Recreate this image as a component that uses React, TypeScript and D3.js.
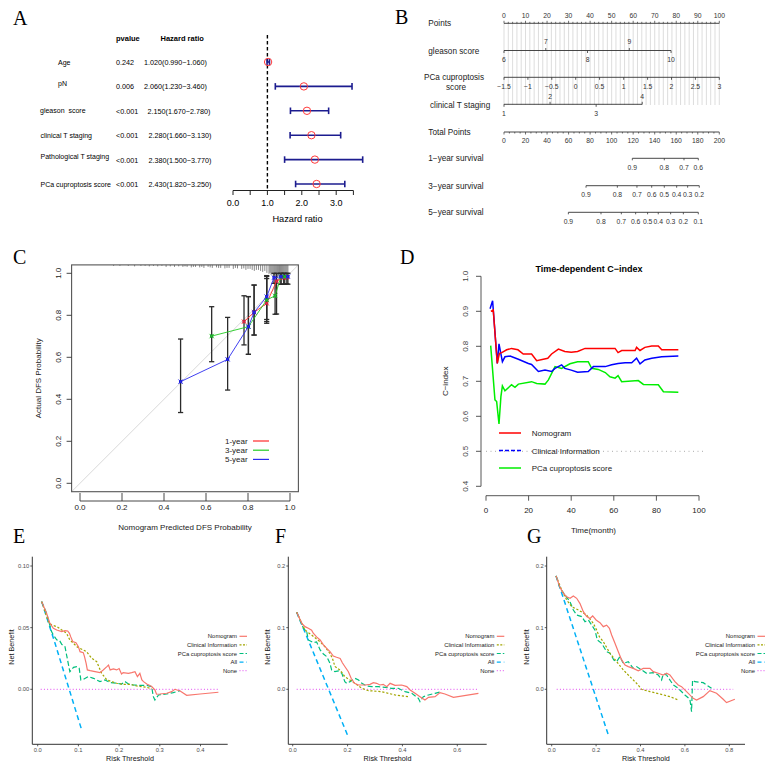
import React from 'react';
import * as d3 from 'd3';

const SANS = '"Liberation Sans", Arial, Helvetica, sans-serif';
const SERIF = '"Liberation Serif", "Times New Roman", serif';

// ---------- A: multivariate Cox regression ----------
const coxVariables = ['Age', 'pN', 'gleason  score', 'clinical T staging', 'Pathological T staging', 'PCa cuproptosis score'];
const coxPValues = ['0.242', '0.006', '<0.001', '<0.001', '<0.001', '<0.001'];
const coxHR = [1.02, 2.06, 2.15, 2.28, 2.38, 2.43];
const coxLower = [0.99, 1.23, 1.67, 1.66, 1.5, 1.82];
const coxUpper = [1.06, 3.46, 2.78, 3.13, 3.77, 3.25];
const forestTicks = [0, 0.5, 1, 1.5, 2, 2.5, 3, 3.5];
const forestTickLabels = [0, 1, 2, 3];

// ---------- B: nomogram ----------
const pointsTicks = [0, 10, 20, 30, 40, 50, 60, 70, 80, 90, 100];
const gleasonLevels = [6, 7, 8, 9, 10];
const gleasonPoints = [0, 19.4, 38.8, 58.2, 77.6];
const cuproptosisLevels = ['-1.5', '-1', '-0.5', '0', '0.5', '1', '1.5', '2', '2.5', '3'];
const cuproptosisPoints = [0, 11.1, 22.2, 33.3, 44.4, 55.6, 66.7, 77.8, 88.9, 100];
const clinicalTLevels = [1, 2, 3, 4];
const clinicalTPoints = [0, 21.4, 42.8, 64.2];
const totalPointsTicks = [0, 20, 40, 60, 80, 100, 120, 140, 160, 180, 200];
const surv1Labels = ['0.9', '0.8', '0.7', '0.6'];
const surv1Total = [119.2, 148.9, 167.2, 180.5];
const surv3Labels = ['0.9', '0.8', '0.7', '0.6', '0.5', '0.4', '0.3', '0.2'];
const surv3Total = [76.2, 105.3, 123.5, 137.2, 148.9, 160.4, 170.6, 181.4];
const surv5Labels = ['0.9', '0.8', '0.7', '0.6', '0.5', '0.4', '0.3', '0.2', '0.1'];
const surv5Total = [59.8, 90.1, 109, 122.3, 133.4, 143.3, 154.8, 166.6, 180.5];

// ---------- C: calibration ----------
const cal1Pred = [0.781, 0.829, 0.889, 0.936, 0.97, 0.985];
const cal1Obs = [0.77, 0.814, 0.857, 0.963, 0.979, 0.982];
const cal1Lo = [0.659, 0.706, 0.78, 0.806, 0.948, 0.95];
const cal1Hi = [0.893, 0.944, 0.975, 1.0, 1.0, 1.0];
const cal3Pred = [0.627, 0.802, 0.889, 0.929, 0.957, 0.975];
const cal3Obs = [0.701, 0.746, 0.873, 0.893, 0.984, 0.984];
const cal3Lo = [0.579, 0.614, 0.762, 0.805, 0.948, 0.948];
const cal3Hi = [0.841, 0.889, 0.989, 0.952, 1.0, 1.0];
const cal5Pred = [0.479, 0.703, 0.802, 0.829, 0.889, 0.924, 0.957, 0.99];
const cal5Obs = [0.484, 0.59, 0.746, 0.814, 0.889, 0.979, 0.984, 0.984];
const cal5Lo = [0.337, 0.444, 0.614, 0.706, 0.77, 0.952, 0.948, 0.948];
const cal5Hi = [0.687, 0.79, 0.889, 0.944, 0.985, 1.0, 1.0, 1.0];
const calTicks = [0, 0.2, 0.4, 0.6, 0.8, 1.0];
// distribution of predicted probabilities (relative frequency)
const rugPred = [0.16, 0.19, 0.23, 0.26, 0.29, 0.31, 0.33, 0.35, 0.37, 0.39, 0.41, 0.43, 0.45, 0.47, 0.49, 0.5, 0.51, 0.53, 0.54, 0.55, 0.57, 0.58, 0.59, 0.61, 0.62, 0.63, 0.65, 0.66, 0.67, 0.69, 0.7, 0.71, 0.73, 0.74, 0.75, 0.77, 0.78, 0.79, 0.8, 0.81, 0.82, 0.83, 0.84, 0.85, 0.86, 0.87, 0.88, 0.89, 0.9, 0.905, 0.91, 0.915, 0.92, 0.925, 0.93, 0.935, 0.94, 0.945, 0.95, 0.955, 0.96, 0.965, 0.97, 0.975, 0.98, 0.985, 0.99];
const rugFreq = [1, 1, 1, 1.5, 1, 1, 1.5, 1, 1.5, 1, 2, 1.5, 2, 1.5, 2, 1.5, 2, 2.5, 2, 2, 2.5, 2, 3, 2, 2.5, 3, 2.5, 3, 3, 3.5, 3, 3, 4, 3, 3.5, 4, 3.5, 5, 4, 4, 5, 6, 5, 5, 6, 7, 6, 8, 9, 8, 10, 9, 12, 10, 11, 12, 13, 11, 12, 10, 14, 12, 10, 11, 12, 9, 8];

// ---------- D: time-dependent C-index ----------
const cindexNomogram: [number, number][] = [[2.3, 0.9], [3.4, 0.904], [5.3, 0.751], [6.3, 0.78], [7.4, 0.782], [9.7, 0.79], [12, 0.794], [15, 0.79], [17.5, 0.778], [21.4, 0.778], [23.8, 0.759], [29, 0.766], [30.8, 0.778], [34, 0.792], [37, 0.785], [40, 0.783], [43, 0.785], [46.5, 0.794], [60.6, 0.794], [62, 0.782], [63.7, 0.788], [70, 0.788], [70.7, 0.797], [72.3, 0.788], [74.6, 0.797], [77.8, 0.801], [80.9, 0.801], [82.5, 0.79], [90.3, 0.79]];
const cindexClinical: [number, number][] = [[1.9, 0.907], [3.1, 0.93], [5.3, 0.751], [6.1, 0.807], [7.7, 0.756], [8.9, 0.77], [11.3, 0.772], [15.2, 0.763], [19.9, 0.751], [21.4, 0.748], [24.6, 0.728], [27.7, 0.732], [30.8, 0.728], [32.4, 0.737], [35.5, 0.747], [37, 0.737], [40, 0.732], [43, 0.726], [48, 0.728], [50.4, 0.742], [56, 0.742], [59, 0.747], [62, 0.751], [65.3, 0.753], [68.4, 0.753], [70.7, 0.766], [72.3, 0.75], [74.6, 0.761], [77.8, 0.766], [82.5, 0.77], [90.3, 0.772]];
const cindexScore: [number, number][] = [[2.2, 0.802], [4.2, 0.647], [5, 0.642], [6.1, 0.578], [7, 0.656], [7.7, 0.687], [8.9, 0.673], [12, 0.69], [13.6, 0.683], [15.2, 0.692], [21.4, 0.699], [23.8, 0.694], [27.7, 0.692], [29.3, 0.704], [32.4, 0.742], [35.5, 0.737], [39.4, 0.75], [43, 0.756], [48, 0.756], [49.6, 0.737], [52.7, 0.734], [56, 0.725], [58.2, 0.713], [60.6, 0.709], [62, 0.716], [63.7, 0.699], [71.5, 0.702], [73.9, 0.691], [80.9, 0.69], [83.3, 0.67], [90.3, 0.669]];
const cindexYTicks = [0.4, 0.5, 0.6, 0.7, 0.8, 0.9, 1.0];
const cindexXTicks = [0, 20, 40, 60, 80, 100];

// ---------- E/F/G: decision curves ----------
const dcaLegend = ['Nomogram', 'Clinical Information', 'PCa cuproptosis score', 'All', 'None'];

const dca1Nomogram: [number, number][] = [[0.0098, 0.0711], [0.022, 0.0616], [0.03, 0.0535], [0.0385, 0.0495], [0.0467, 0.0481], [0.059, 0.0468], [0.067, 0.0476], [0.0737, 0.0473], [0.078, 0.0454], [0.081, 0.0427], [0.086, 0.0387], [0.094, 0.0378], [0.1, 0.0346], [0.104, 0.0305], [0.112, 0.0297], [0.115, 0.0265], [0.119, 0.0211], [0.122, 0.0157], [0.129, 0.0151], [0.141, 0.0143], [0.153, 0.0135], [0.161, 0.0157], [0.17, 0.0184], [0.174, 0.0197], [0.178, 0.0157], [0.186, 0.0165], [0.194, 0.0157], [0.2, 0.0168], [0.206, 0.0124], [0.21, 0.0135], [0.223, 0.013], [0.231, 0.0135], [0.239, 0.0143], [0.245, 0.0103], [0.251, 0.013], [0.256, 0.0076], [0.26, 0.0062], [0.268, 0.0043], [0.28, 0.0022], [0.288, -0.0005], [0.292, -0.004], [0.3, -0.0038], [0.317, -0.0032], [0.329, -0.0019], [0.337, 0], [0.35, -0.0014], [0.366, -0.0049], [0.399, -0.0038], [0.444, -0.0024]];
const dca1Clinical: [number, number][] = [[0.0098, 0.0711], [0.026, 0.0549], [0.034, 0.0522], [0.047, 0.0508], [0.059, 0.0481], [0.071, 0.0454], [0.079, 0.04], [0.088, 0.0373], [0.096, 0.0346], [0.12, 0.0305], [0.133, 0.0251], [0.145, 0.0224], [0.157, 0.013], [0.17, 0.0076], [0.182, 0.0062], [0.194, 0.0049], [0.21, 0.004], [0.227, 0.004], [0.243, 0.0027], [0.268, 0.0016], [0.28, 0.0005]];
const dca1Score: [number, number][] = [[0.0098, 0.0711], [0.022, 0.0616], [0.034, 0.0468], [0.0385, 0.044], [0.047, 0.04], [0.053, 0.04], [0.059, 0.0365], [0.067, 0.0346], [0.071, 0.0278], [0.075, 0.0211], [0.079, 0.0143], [0.088, 0.0178], [0.096, 0.0184], [0.102, 0.017], [0.106, 0.0076], [0.112, 0.0081], [0.124, 0.0103], [0.137, 0.0089], [0.145, 0.0076], [0.153, 0.0062], [0.165, 0.0076], [0.178, 0.0054], [0.194, 0.0049], [0.206, 0.0043], [0.215, 0.0062], [0.223, 0.0043], [0.235, 0.0035], [0.251, 0.0032], [0.268, 0.0032], [0.28, 0.0022], [0.284, -0.0059], [0.288, -0.0087], [0.297, -0.0046], [0.317, -0.0038], [0.333, -0.0027], [0.35, -0.0011]];
const dca1All: [number, number][] = [[0.0098, 0.0711], [0.0426, 0.0373], [0.109, -0.034]];
const dca1None: [number, number][] = [[0.0074, 0], [0.4455, 0]];

const dca3Nomogram: [number, number][] = [[0.0146, 0.125], [0.033, 0.107], [0.045, 0.1016], [0.057, 0.099], [0.069, 0.096], [0.075, 0.091], [0.087, 0.085], [0.1, 0.08], [0.112, 0.072], [0.124, 0.0665], [0.136, 0.061], [0.148, 0.054], [0.16, 0.052], [0.173, 0.05], [0.181, 0.043], [0.19, 0.037], [0.203, 0.0286], [0.213, 0.0178], [0.225, 0.0097], [0.24, 0.007], [0.264, 0.007], [0.282, 0.008], [0.294, 0.0108], [0.306, 0.0097], [0.318, 0.007], [0.33, 0.008], [0.343, 0.0043], [0.355, 0.0097], [0.373, 0.0065], [0.397, 0.007], [0.416, 0.0043], [0.428, -0.001], [0.446, -0.0065], [0.464, -0.0119], [0.482, -0.0173], [0.495, -0.013], [0.519, -0.0119], [0.537, -0.0054], [0.555, -0.0076], [0.586, -0.013], [0.677, -0.0065]];
const dca3Clinical: [number, number][] = [[0.0146, 0.125], [0.045, 0.096], [0.069, 0.088], [0.1, 0.077], [0.118, 0.069], [0.136, 0.058], [0.145, 0.05], [0.154, 0.037], [0.173, 0.031], [0.19, 0.0205], [0.209, 0.015], [0.227, 0.0097], [0.252, 0.0016], [0.276, -0.0022], [0.324, -0.0038], [0.373, -0.0092], [0.422, -0.0119]];
const dca3Score: [number, number][] = [[0.0146, 0.125], [0.039, 0.099], [0.051, 0.0935], [0.057, 0.08], [0.075, 0.0757], [0.087, 0.077], [0.1, 0.0638], [0.112, 0.0573], [0.124, 0.053], [0.136, 0.042], [0.142, 0.031], [0.154, 0.0286], [0.166, 0.03], [0.179, 0.026], [0.19, 0.0124], [0.197, 0.0097], [0.209, 0.0124], [0.227, 0.0178], [0.24, 0.015], [0.252, 0.0097], [0.27, 0.0054], [0.288, 0.0043], [0.312, 0.0043], [0.337, 0.0032], [0.36, 0.0016], [0.385, 0.0016], [0.41, -0.0038], [0.434, -0.0065], [0.458, -0.0146], [0.464, -0.02], [0.476, -0.0119], [0.495, -0.0092], [0.519, -0.0065], [0.543, -0.0038]];
const dca3All: [number, number][] = [[0.0146, 0.125], [0.2005, -0.075]];
const dca3None: [number, number][] = [[0.0146, 0], [0.677, 0]];

const dca5Nomogram: [number, number][] = [[0.0195, 0.184], [0.0375, 0.165], [0.0525, 0.156], [0.0675, 0.15], [0.0825, 0.1476], [0.0975, 0.1514], [0.1125, 0.1476], [0.1275, 0.139], [0.1425, 0.126], [0.1575, 0.118], [0.1725, 0.115], [0.1845, 0.119], [0.2, 0.1124], [0.2175, 0.108], [0.2325, 0.1016], [0.2475, 0.104], [0.26, 0.099], [0.27, 0.088], [0.285, 0.0746], [0.3, 0.061], [0.315, 0.0476], [0.33, 0.0395], [0.345, 0.0368], [0.3675, 0.034], [0.39, 0.03], [0.4125, 0.034], [0.4425, 0.034], [0.4575, 0.0286], [0.48, 0.026], [0.5025, 0.0232], [0.5175, 0.026], [0.5325, 0.0232], [0.555, 0.0124], [0.57, 0.007], [0.585, 0.0043], [0.6075, -0.0038], [0.6375, -0.0146], [0.6525, -0.0173], [0.6825, -0.0119], [0.7125, -0.0022], [0.7425, -0.0065], [0.7725, -0.0162], [0.7875, -0.0216], [0.825, -0.0162]];
const dca5Clinical: [number, number][] = [[0.0195, 0.184], [0.045, 0.161], [0.0675, 0.145], [0.09, 0.134], [0.12, 0.1286], [0.1575, 0.1205], [0.1875, 0.107], [0.2025, 0.096], [0.2145, 0.0854], [0.2325, 0.0773], [0.2625, 0.0584], [0.2925, 0.0449], [0.3225, 0.0314], [0.3525, 0.0205], [0.3825, 0.0097], [0.405, 0], [0.4425, -0.0038], [0.4875, -0.0076], [0.5325, -0.0119], [0.57, -0.0173]];
const dca5Score: [number, number][] = [[0.0195, 0.184], [0.0375, 0.164], [0.06, 0.153], [0.0825, 0.142], [0.0975, 0.1286], [0.1125, 0.1205], [0.135, 0.118], [0.15, 0.1097], [0.165, 0.1124], [0.18, 0.1043], [0.195, 0.096], [0.2055, 0.08], [0.225, 0.0746], [0.2475, 0.061], [0.2625, 0.0584], [0.28, 0.0476], [0.2925, 0.0449], [0.3075, 0.053], [0.3225, 0.042], [0.345, 0.0449], [0.3675, 0.034], [0.3825, 0.0368], [0.405, 0.0314], [0.4275, 0.026], [0.4575, 0.027], [0.48, 0.0232], [0.495, 0.0151], [0.5025, 0.0249], [0.5175, 0.0232], [0.5475, 0.007], [0.57, 0.0016], [0.6, -0.0092], [0.6225, -0.0162], [0.63, -0.0362], [0.6345, 0.0151], [0.645, 0.0124], [0.6825, 0.0108], [0.72, 0.0016]];
const dca5All: [number, number][] = [[0.0195, 0.184], [0.255, -0.074]];
const dca5None: [number, number][] = [[0.0225, 0], [0.8175, 0]];

const DCA_COLORS = ['#F8766D', '#A3A500', '#00BF7D', '#00B0F6', '#E76BF3'];
const DCA_DASH = ['none', '2.2,1.8', '5,2.5', '5,3.5', '1,2.2'];
const DCA_LEGEND_DASH = ['none', '2,1.5', '4,2', '4,3', '1,2'];

function PanelLetter({ x, y, t }: { x: number; y: number; t: string }) {
  return (
    <text x={x} y={y} fontFamily={SERIF} fontSize={20} fill="#000">{t}</text>
  );
}

function ForestPanel() {
  const x = d3.scaleLinear().domain([0, 1]).range([233, 267.4]);
  const y = d3.scalePoint<string>().domain(coxVariables).range([62, 184]);
  const labelX = [58, 58, 40, 40.5, 40.5, 40.5];
  const hrX = [144, 144, 147.5, 148.5, 148.5, 148.5];
  const axisY = 190.5;
  const fmt = d3.format('.3f');
  return (
    <g fontFamily={SANS}>
      <text x={116} y={40.5} fontSize={7.5} fontWeight="bold">pvalue</text>
      <text x={160.5} y={40.5} fontSize={7.5} fontWeight="bold">Hazard ratio</text>
      {coxVariables.map((v, i) => {
        const yy = y(v)!;
        return (
          <g key={v}>
            <text x={labelX[i]} y={yy + (i === 1 || i === 4 ? -0.5 : 2.5)} fontSize={7} style={{ whiteSpace: 'pre' }}>{v}</text>
            <text x={116} y={yy + 3} fontSize={7.2}>{coxPValues[i]}</text>
            <text x={hrX[i]} y={yy + 3} fontSize={7.2}>{`${fmt(coxHR[i])}(${fmt(coxLower[i])}\u2212${fmt(coxUpper[i])})`}</text>
          </g>
        );
      })}
      <line x1={x(1)} x2={x(1)} y1={35} y2={axisY} stroke="#000" strokeWidth={1.4} strokeDasharray="3.5,2.5" />
      {coxVariables.map((v, i) => {
        const yy = y(v)!;
        return (
          <g key={'bar' + v}>
            <line x1={x(coxLower[i])} x2={x(coxUpper[i])} y1={yy} y2={yy} stroke="#1c1c8f" strokeWidth={1.6} />
            <line x1={x(coxLower[i])} x2={x(coxLower[i])} y1={yy - 3.3} y2={yy + 3.3} stroke="#1c1c8f" strokeWidth={1.6} />
            <line x1={x(coxUpper[i])} x2={x(coxUpper[i])} y1={yy - 3.3} y2={yy + 3.3} stroke="#1c1c8f" strokeWidth={1.6} />
            <circle cx={x(coxHR[i])} cy={yy} r={3.7} fill="none" stroke="#ff3b3b" strokeWidth={1} />
          </g>
        );
      })}
      <line x1={x(0)} x2={x(3.5)} y1={axisY} y2={axisY} stroke="#222" strokeWidth={1} />
      {forestTicks.map(t => (
        <line key={t} x1={x(t)} x2={x(t)} y1={axisY} y2={axisY + 4.5} stroke="#222" strokeWidth={1} />
      ))}
      {forestTickLabels.map(t => (
        <text key={t} x={x(t)} y={205.5} fontSize={9} textAnchor="middle">{t.toFixed(1)}</text>
      ))}
      <text x={297.5} y={222} fontSize={9.2} textAnchor="middle">Hazard ratio</text>
    </g>
  );
}

function NomogramPanel() {
  const pts = d3.scaleLinear().domain([0, 100]).range([504, 719.3]);
  const tot = d3.scaleLinear().domain([0, 200]).range([504, 719.3]);
  const ink = '#333';
  const fs = 6.8;
  const labelFs = 8.2;
  const rows = { points: 23.3, gleason: 50.5, cupro: 77.3, clinical: 104.3, total: 132, s1: 158.3, s3: 185.7, s5: 212.3 };
  const gridLines = d3.range(0, 100.01, 2);
  const minorPts = d3.range(0, 100.01, 2);
  const minorTot = d3.range(0, 200.01, 5);
  const survRow = (labels: string[], totals: number[], yy: number) => (
    <g>
      <line x1={tot(totals[0])} x2={tot(totals[totals.length - 1])} y1={yy} y2={yy} stroke={ink} strokeWidth={0.9} />
      {totals.map((t, i) => (
        <g key={i}>
          <line x1={tot(t)} x2={tot(t)} y1={yy} y2={yy + 2} stroke={ink} strokeWidth={0.8} />
          <text x={tot(t)} y={yy + 11.5} fontSize={fs} textAnchor="middle" fill={ink}>{labels[i]}</text>
        </g>
      ))}
    </g>
  );
  return (
    <g fontFamily={SANS}>
      {gridLines.map(g => (
        <line key={g} x1={pts(g)} x2={pts(g)} y1={rows.points} y2={105} stroke="#d4d4d4" strokeWidth={0.8} />
      ))}
      {/* Points */}
      <text x={428.3} y={26} fontSize={labelFs} fill="#222">Points</text>
      <line x1={pts(0)} x2={pts(100)} y1={rows.points} y2={rows.points} stroke={ink} strokeWidth={0.9} />
      {minorPts.map(p => (
        <line key={p} x1={pts(p)} x2={pts(p)} y1={rows.points} y2={rows.points - (p % 10 === 0 ? 2.5 : 1.5)} stroke={ink} strokeWidth={0.7} />
      ))}
      {pointsTicks.map(p => (
        <text key={p} x={pts(p)} y={17.5} fontSize={fs} textAnchor="middle" fill={ink}>{p}</text>
      ))}
      {/* gleason score */}
      <text x={428.3} y={53.5} fontSize={labelFs} fill="#222">gleason score</text>
      <line x1={pts(gleasonPoints[0])} x2={pts(gleasonPoints[4])} y1={rows.gleason} y2={rows.gleason} stroke={ink} strokeWidth={0.9} />
      {gleasonLevels.map((g, i) => {
        const up = i % 2 === 1;
        return (
          <g key={g}>
            <line x1={pts(gleasonPoints[i])} x2={pts(gleasonPoints[i])} y1={rows.gleason} y2={rows.gleason + (up ? -2.5 : 2.5)} stroke={ink} strokeWidth={0.8} />
            <text x={pts(gleasonPoints[i])} y={up ? 44 : 62} fontSize={fs} textAnchor="middle" fill={ink}>{g}</text>
          </g>
        );
      })}
      {/* PCa cuproptosis score */}
      <text x={454} y={80} fontSize={labelFs} textAnchor="middle" fill="#222">PCa cuproptosis</text>
      <text x={456} y={89.5} fontSize={labelFs} textAnchor="middle" fill="#222">score</text>
      <line x1={pts(0)} x2={pts(100)} y1={rows.cupro} y2={rows.cupro} stroke={ink} strokeWidth={0.9} />
      {cuproptosisLevels.map((c, i) => (
        <g key={c}>
          <line x1={pts(cuproptosisPoints[i])} x2={pts(cuproptosisPoints[i])} y1={rows.cupro} y2={rows.cupro + 2.5} stroke={ink} strokeWidth={0.8} />
          <text x={pts(cuproptosisPoints[i])} y={88.5} fontSize={fs} textAnchor="middle" fill={ink}>{c.replace('-', '\u2212')}</text>
        </g>
      ))}
      {/* clinical T staging */}
      <text x={430} y={108} fontSize={labelFs} fill="#222">clinical T staging</text>
      <line x1={pts(clinicalTPoints[0])} x2={pts(clinicalTPoints[3])} y1={rows.clinical} y2={rows.clinical} stroke={ink} strokeWidth={0.9} />
      {clinicalTLevels.map((c, i) => {
        const up = i % 2 === 1;
        return (
          <g key={c}>
            <line x1={pts(clinicalTPoints[i])} x2={pts(clinicalTPoints[i])} y1={rows.clinical} y2={rows.clinical + (up ? -2.5 : 2.5)} stroke={ink} strokeWidth={0.8} />
            <text x={pts(clinicalTPoints[i])} y={up ? 98.5 : 116} fontSize={fs} textAnchor="middle" fill={ink}>{c}</text>
          </g>
        );
      })}
      {/* Total Points */}
      <text x={428.3} y={135} fontSize={labelFs} fill="#222">Total Points</text>
      <line x1={tot(0)} x2={tot(200)} y1={rows.total} y2={rows.total} stroke={ink} strokeWidth={0.9} />
      {minorTot.map(p => (
        <line key={p} x1={tot(p)} x2={tot(p)} y1={rows.total} y2={rows.total + (p % 20 === 0 ? 2.5 : 1.5)} stroke={ink} strokeWidth={0.7} />
      ))}
      {totalPointsTicks.map(p => (
        <text key={p} x={tot(p)} y={142.8} fontSize={fs} textAnchor="middle" fill={ink}>{p}</text>
      ))}
      <text x={428.3} y={161} fontSize={labelFs} fill="#222">1{'\u2212'}year survival</text>
      {survRow(surv1Labels, surv1Total, rows.s1)}
      <text x={428.3} y={188.5} fontSize={labelFs} fill="#222">3{'\u2212'}year survival</text>
      {survRow(surv3Labels, surv3Total, rows.s3)}
      <text x={428.3} y={215} fontSize={labelFs} fill="#222">5{'\u2212'}year survival</text>
      {survRow(surv5Labels, surv5Total, rows.s5)}
    </g>
  );
}

function CalibrationPanel() {
  const x = d3.scaleLinear().domain([0, 1]).range([80, 290]);
  const y = d3.scaleLinear().domain([0, 1]).range([483.3, 273.3]);
  const line = d3.line<number>();
  const series = [
    { name: '1-year', color: '#ff2a2a', pred: cal1Pred, obs: cal1Obs, lo: cal1Lo, hi: cal1Hi },
    { name: '3-year', color: '#22cc22', pred: cal3Pred, obs: cal3Obs, lo: cal3Lo, hi: cal3Hi },
    { name: '5-year', color: '#2a2aee', pred: cal5Pred, obs: cal5Obs, lo: cal5Lo, hi: cal5Hi },
  ];
  const left = x(-0.04), right = x(1.04), top = y(1.04), bottom = y(-0.04);
  const axisY = 501;
  return (
    <g fontFamily={SANS}>
      <line x1={left} y1={bottom} x2={right} y2={top} stroke="#d8d8d8" strokeWidth={1} />
      {rugPred.map((p, i) => (
        <line key={i} x1={x(p)} x2={x(p)} y1={top} y2={top + rugFreq[i]} stroke="#555" strokeWidth={0.7} />
      ))}
      {series.map(s => s.pred.map((p, i) => (
        <g key={s.name + i} stroke="#2b2b2b" strokeWidth={1.3}>
          <line x1={x(p)} x2={x(p)} y1={y(s.lo[i])} y2={y(s.hi[i])} />
          <line x1={x(p) - 2.6} x2={x(p) + 2.6} y1={y(s.lo[i])} y2={y(s.lo[i])} />
          <line x1={x(p) - 2.6} x2={x(p) + 2.6} y1={y(s.hi[i])} y2={y(s.hi[i])} />
        </g>
      )))}
      {series.map(s => (
        <path key={s.name} d={line(s.pred.map((p, i) => [x(p), y(s.obs[i])]) as any) || ''} fill="none" stroke={s.color} strokeWidth={0.9} />
      ))}
      {series.map(s => s.pred.map((p, i) => (
        <g key={'m' + s.name + i}>
          <rect x={x(p) - 1.6} y={y(s.obs[i]) - 1.6} width={3.2} height={3.2} fill={s.name === '1-year' ? '#a0205a' : s.name === '3-year' ? '#1a8a3a' : '#1a1acc'} />
          <path d={`M${x(p) - 2.2},${y(s.obs[i]) - 2.2}L${x(p) + 2.2},${y(s.obs[i]) + 2.2}M${x(p) - 2.2},${y(s.obs[i]) + 2.2}L${x(p) + 2.2},${y(s.obs[i]) - 2.2}`} stroke={s.color} strokeWidth={0.9} />
        </g>
      )))}
      <rect x={left} y={top} width={right - left} height={bottom - top} fill="none" stroke="#555" strokeWidth={1.1} />
      {calTicks.map(t => (
        <g key={t}>
          <line x1={left} x2={left - 5} y1={y(t)} y2={y(t)} stroke="#333" strokeWidth={0.9} />
          <text transform={`translate(${58.5},${y(t)}) rotate(-90)`} fontSize={8} textAnchor="middle" dy="0.35em" fill="#222">{t.toFixed(1)}</text>
          <line x1={x(t)} x2={x(t)} y1={axisY} y2={axisY - 8} stroke="#333" strokeWidth={0.9} />
          <text x={x(t)} y={509.8} fontSize={8} textAnchor="middle" fill="#222">{t.toFixed(1)}</text>
        </g>
      ))}
      <line x1={x(0)} x2={x(1)} y1={axisY} y2={axisY} stroke="#333" strokeWidth={0.9} />
      <text x={x(0.5)} y={530} fontSize={8} textAnchor="middle" fill="#222">Nomogram Predicted DFS Probability</text>
      <text transform={`translate(${41},${y(0.5)}) rotate(-90)`} fontSize={8} textAnchor="middle" fill="#222">Actual DFS Probability</text>
      {series.map((s, i) => (
        <g key={'lg' + s.name}>
          <text x={225} y={443.5 + i * 9.2} fontSize={8} fill="#222">{s.name}</text>
          <line x1={253} x2={269} y1={441 + i * 9.2} y2={441 + i * 9.2} stroke={s.color} strokeWidth={1.2} />
        </g>
      ))}
    </g>
  );
}

function CIndexPanel() {
  const x = d3.scaleLinear().domain([0, 100]).range([486, 699]);
  const y = d3.scaleLinear().domain([0.4, 1.0]).range([486.3, 276.3]);
  const line = d3.line<[number, number]>().x(d => x(d[0])).y(d => y(d[1]));
  const axisX = 481;
  const axisY = 495.7;
  const legend = [
    { name: 'Nomogram', color: '#ff0000', dash: 'none' },
    { name: 'Clinical Information', color: '#0000ff', dash: '4,2' },
    { name: 'PCa cuproptosis score', color: '#00ee00', dash: 'none' },
  ];
  return (
    <g fontFamily={SANS}>
      <text x={589} y={272} fontSize={9} fontWeight="bold" textAnchor="middle">Time-dependent C{'\u2212'}index</text>
      <line x1={x(0)} x2={703} y1={y(0.5)} y2={y(0.5)} stroke="#aaa" strokeWidth={1} strokeDasharray="1,3.5" />
      <path d={line(cindexScore) || ''} fill="none" stroke="#00ee00" strokeWidth={1.5} />
      <path d={line(cindexClinical) || ''} fill="none" stroke="#0000ff" strokeWidth={1.5} />
      <path d={line(cindexNomogram) || ''} fill="none" stroke="#ff0000" strokeWidth={1.5} />
      <line x1={axisX} x2={axisX} y1={y(0.4)} y2={y(1.0)} stroke="#444" strokeWidth={0.9} />
      {cindexYTicks.map(t => (
        <g key={t}>
          <line x1={axisX} x2={axisX - 5} y1={y(t)} y2={y(t)} stroke="#444" strokeWidth={0.9} />
          <text transform={`translate(${465},${y(t)}) rotate(-90)`} fontSize={8} textAnchor="middle" dy="0.35em" fill="#444">{t.toFixed(1)}</text>
        </g>
      ))}
      <line x1={x(0)} x2={x(100)} y1={axisY} y2={axisY} stroke="#444" strokeWidth={0.9} />
      {cindexXTicks.map(t => (
        <g key={t}>
          <line x1={x(t)} x2={x(t)} y1={axisY} y2={axisY + 5} stroke="#444" strokeWidth={0.9} />
          <text x={x(t)} y={513} fontSize={8} textAnchor="middle" fill="#222">{t}</text>
        </g>
      ))}
      <text x={x(50) + 1} y={533} fontSize={8} textAnchor="middle" fill="#222">Time(month)</text>
      <text transform={`translate(${447.5},${y(0.7)}) rotate(-90)`} fontSize={8} textAnchor="middle" fill="#222">C{'\u2212'}index</text>
      {legend.map((l, i) => (
        <g key={l.name}>
          <line x1={499} x2={521} y1={433 + i * 17.5} y2={433 + i * 17.5} stroke={l.color} strokeWidth={1.5} strokeDasharray={l.dash} />
          <text x={531.7} y={436 + i * 17.5} fontSize={8} fill="#222">{l.name}</text>
        </g>
      ))}
    </g>
  );
}

type DcaProps = {
  curves: [number, number][][];
  xRange: [number, number];
  xMax: number;
  yMax: number;
  xTicks: number[];
  yTicks: number[];
  yFmt: string;
  frameLeft: number;
  frameRight: number;
  legendRight: number;
};

function DcaPanel(p: DcaProps) {
  const x = d3.scaleLinear().domain([0, p.xMax]).range(p.xRange);
  const y = d3.scaleLinear().domain([0, p.yMax]).range([689.3, 566]);
  const line = d3.line<[number, number]>().x(d => x(d[0])).y(d => y(d[1]));
  const top = 556.7, bottom = 744.3;
  const fmtY = d3.format(p.yFmt);
  const drawOrder = [4, 3, 2, 1, 0];
  const tickColor = '#333';
  return (
    <g fontFamily={SANS}>
      {drawOrder.map(i => (
        <path key={i} d={line(p.curves[i]) || ''} fill="none" stroke={DCA_COLORS[i]} strokeWidth={i === 3 ? 1.5 : 1.2} strokeDasharray={DCA_DASH[i]} />
      ))}
      <line x1={p.frameLeft} x2={p.frameLeft} y1={top} y2={bottom} stroke="#333" strokeWidth={1} />
      <line x1={p.frameLeft} x2={p.frameRight} y1={bottom} y2={bottom} stroke="#333" strokeWidth={1} />
      {p.yTicks.map(t => (
        <g key={t}>
          <line x1={p.frameLeft} x2={p.frameLeft - 2} y1={y(t)} y2={y(t)} stroke={tickColor} strokeWidth={0.8} />
          <text x={p.frameLeft - 3} y={y(t)} dy="0.35em" fontSize={5.8} textAnchor="end" fill="#4d4d4d">{fmtY(t)}</text>
        </g>
      ))}
      {p.xTicks.map(t => (
        <g key={t}>
          <line x1={x(t)} x2={x(t)} y1={bottom} y2={bottom + 2} stroke={tickColor} strokeWidth={0.8} />
          <text x={x(t)} y={751.5} fontSize={5.8} textAnchor="middle" fill="#4d4d4d">{t.toFixed(1)}</text>
        </g>
      ))}
      <text x={(p.frameLeft + p.frameRight) / 2} y={761} fontSize={7.2} textAnchor="middle" fill="#111">Risk Threshold</text>
      <text transform={`translate(${p.frameLeft - 18},${647}) rotate(-90)`} fontSize={7.2} textAnchor="middle" fill="#111">Net Benefit</text>
      {dcaLegend.map((name, i) => {
        const yy = 636.3 + i * 8.6;
        return (
          <g key={name}>
            <text x={p.legendRight} y={yy} dy="0.35em" fontSize={5.9} textAnchor="end" fill="#222">{name}</text>
            <line x1={p.legendRight + 2.5} x2={p.legendRight + 10} y1={yy} y2={yy} stroke={DCA_COLORS[i]} strokeWidth={1.2} strokeDasharray={DCA_LEGEND_DASH[i]} />
          </g>
        );
      })}
    </g>
  );
}

export default function App() {
  return (
    <svg width={770} height={771} viewBox="0 0 770 771" style={{ position: 'absolute', left: 0, top: 0, background: '#fff' }}>
      <rect x={0} y={0} width={770} height={771} fill="#fff" />
      <PanelLetter x={13} y={25} t="A" />
      <PanelLetter x={395} y={23.5} t="B" />
      <PanelLetter x={13} y={263.5} t="C" />
      <PanelLetter x={400} y={263.5} t="D" />
      <PanelLetter x={13} y={543.3} t="E" />
      <PanelLetter x={275} y={543.3} t="F" />
      <PanelLetter x={527} y={543.3} t="G" />
      <ForestPanel />
      <NomogramPanel />
      <CalibrationPanel />
      <CIndexPanel />
      <DcaPanel curves={[dca1Nomogram, dca1Clinical, dca1Score, dca1All, dca1None]} xRange={[37.7, 200.5]} xMax={0.4} yMax={0.1}
        xTicks={[0, 0.1, 0.2, 0.3, 0.4]} yTicks={[0, 0.05, 0.1]} yFmt=".2f" frameLeft={32.3} frameRight={227.7} legendRight={237} />
      <DcaPanel curves={[dca3Nomogram, dca3Clinical, dca3Score, dca3All, dca3None]} xRange={[292.7, 457.3]} xMax={0.6} yMax={0.2}
        xTicks={[0, 0.2, 0.4, 0.6]} yTicks={[0, 0.1, 0.2]} yFmt=".1f" frameLeft={288.3} frameRight={486.7} legendRight={494.3} />
      <DcaPanel curves={[dca5Nomogram, dca5Clinical, dca5Score, dca5All, dca5None]} xRange={[551.7, 729.3]} xMax={0.8} yMax={0.2}
        xTicks={[0, 0.2, 0.4, 0.6, 0.8]} yTicks={[0, 0.1, 0.2]} yFmt=".1f" frameLeft={546.7} frameRight={745} legendRight={755} />
    </svg>
  );
}
